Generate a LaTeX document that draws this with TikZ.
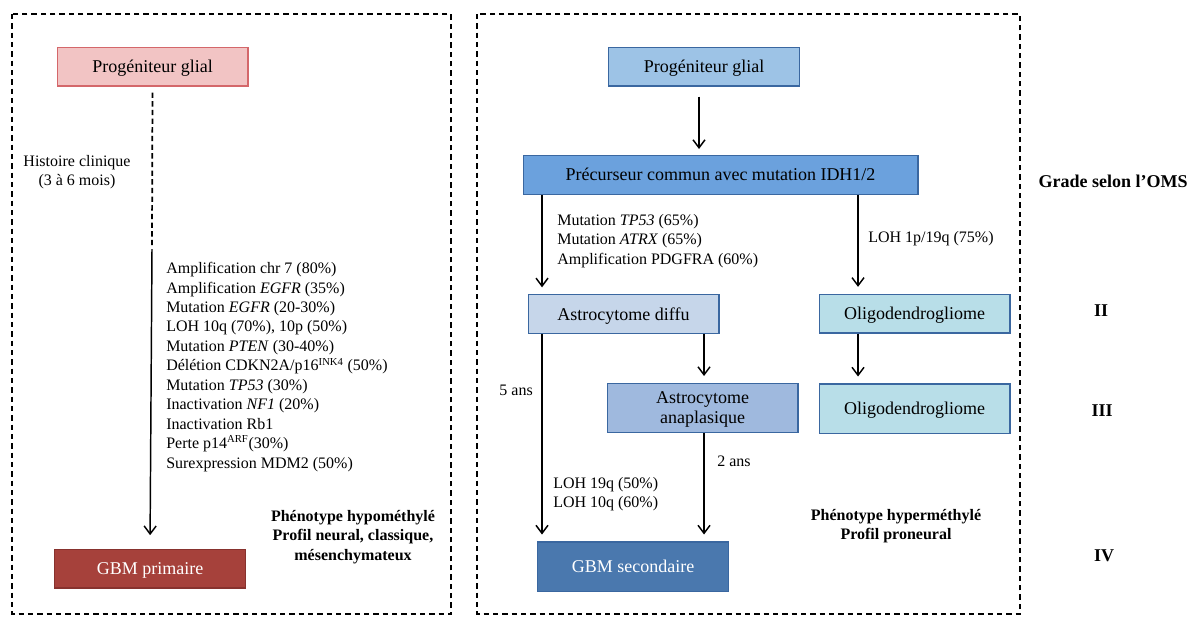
\documentclass[tikz,border=0pt]{standalone}
\usepackage{fontspec}
\setmainfont{Liberation Serif}
\usetikzlibrary{arrows.meta}

\definecolor{roseFill}{HTML}{F2C4C4}
\definecolor{roseLine}{HTML}{D4676A}
\definecolor{brickFill}{HTML}{A6413B}
\definecolor{brickLine}{HTML}{87322E}
\definecolor{skyFill}{HTML}{9DC3E6}
\definecolor{midFill}{HTML}{6BA1DD}
\definecolor{paleFill}{HTML}{C6D6EA}
\definecolor{anaFill}{HTML}{9FB9DE}
\definecolor{cyanFill}{HTML}{B8DEE8}
\definecolor{navyFill}{HTML}{4A78AE}
\definecolor{blueLine}{HTML}{3A67A0}

\tikzset{
	box/.style={draw, line width=1pt, inner sep=0pt, align=center, text depth=0.5pt, minimum width=143pt, minimum height=29pt, font=\fontsize{13.5}{15.5}\selectfont},
	arr/.style={-{Straight Barb[length=6pt,width=9pt]}, line width=1.1pt},
	txt/.style={inner sep=0pt, align=left, font=\fontsize{12}{14.6}\selectfont},
	boldtxt/.style={inner sep=0pt, align=center, font=\fontsize{12}{14.6}\selectfont\bfseries},
	grade/.style={inner sep=0pt, font=\fontsize{13.5}{15.5}\selectfont\bfseries},
	frame/.style={dash pattern=on 4pt off 3pt, line width=0.8pt}
}

\begin{document}
\begin{tikzpicture}[x=0.75pt, y=-0.75pt]
			\useasboundingbox (0, 0) rectangle (1194, 619);
			\draw[frame] (12, 14) rectangle (451, 614);
			\draw[frame] (477, 14) rectangle (1020, 614);

			\draw (152.5, 66.5) 	node[box, fill=roseFill, draw=roseLine] 			(lprog) 	{Progéniteur glial};
			\draw (150, 568.5) 	node[box, fill=brickFill, draw=brickLine, text=white] 	(gbmI) 		{GBM primaire};
			\draw (704, 66.5) 	node[box, fill=skyFill, draw=blueLine] 			(rprog) 	{Progéniteur glial};
			\draw (720.5, 175) 	node[box, fill=midFill, draw=blueLine, minimum width=296pt] 	(precur) 	{Précurseur commun avec mutation IDH1/2};
			\draw (623.5, 314) 	node[box, fill=paleFill, draw=blueLine] 			(astro) 	{Astrocytome diffu};
			\draw (914.5, 313.5) 	node[box, fill=cyanFill, draw=blueLine] 			(oligoA) 	{Oligodendrogliome};
			\draw (702.5, 408) 	node[box, fill=anaFill, draw=blueLine, minimum height=37pt] 	(anapl) 	{Astrocytome\\anaplasique};
			\draw (914.5, 408.5) 	node[box, fill=cyanFill, draw=blueLine, minimum height=37pt] 	(oligoB) 	{Oligodendrogliome};
			\draw (633, 566.5) 	node[box, fill=navyFill, draw=blueLine, text=white, minimum height=37pt] 	(gbmII) 	{GBM secondaire};

			\coordinate (hist) at (152, 245);
			\coordinate (laneL) at (542, 0);
			\coordinate (laneM) at (699, 0);
			\coordinate (laneA) at (704, 0);
			\coordinate (laneR) at (858, 0);

			\draw (77, 155) 	node[txt, anchor=north, align=center] 	(clin) 		{Histoire clinique\\(3 à 6 mois)};
			\draw (166, 262) 	node[txt, anchor=north west] 	(mutI) 		{Amplification chr 7 (80\%)\\Amplification \textit{EGFR} (35\%)\\Mutation \textit{EGFR} (20-30\%)\\LOH 10q (70\%), 10p (50\%)\\Mutation \textit{PTEN} (30-40\%)\\Délétion CDKN2A/p16\textsuperscript{INK4} (50\%)\\Mutation \textit{TP53} (30\%)\\Inactivation \textit{NF1} (20\%)\\Inactivation Rb1\\Perte p14\textsuperscript{ARF}(30\%)\\Surexpression MDM2 (50\%)};
			\draw (353, 510) 	node[boldtxt, anchor=north] 	(phenI) 	{Phénotype hypométhylé\\Profil neural, classique,\\mésenchymateux};

			\draw (557, 214) 	node[txt, anchor=north west] 	(mutII) 	{Mutation \textit{TP53} (65\%)\\Mutation \textit{ATRX} (65\%)\\Amplification PDGFRA (60\%)};
			\draw (868, 239) 	node[txt, anchor=west] 		(loh) 		{LOH 1p/19q (75\%)};
			\draw (533, 390) 	node[txt, anchor=east] 		(five) 		{5 ans};
			\draw (553, 477) 	node[txt, anchor=north west] 	(lohII) 	{LOH 19q (50\%)\\LOH 10q (60\%)};
			\draw (717, 461) 	node[txt, anchor=west] 		(two) 		{2 ans};
			\draw (896, 509) 	node[boldtxt, anchor=north] 	(phenII) 	{Phénotype hyperméthylé\\Profil proneural};

			\draw (1113, 181) 	node[grade] 	(oms) 		{Grade selon l’OMS};
			\draw (1101, 311) 	node[grade] 	(gII) 		{II};
			\draw (1102, 411) 	node[grade] 	(gIII) 		{III};
			\draw (1104, 556) 	node[grade] 	(gIV) 		{IV};

			\draw[dash pattern=on 4pt off 2.5pt, line width=1.3pt, shorten <=4.5pt] (lprog.south) -- (hist);
			\draw[arr, shorten >=10pt] ([yshift=-3pt]hist) -- (gbmI.north);
			\draw[arr, shorten <=7.5pt, shorten >=4.5pt] (rprog.south -| laneM) -- (precur.north -| laneM);
			\draw[arr, shorten >=5pt] (precur.south -| laneL) -- (astro.north -| laneL);
			\draw[arr, shorten >=5pt] (precur.south -| laneR) -- (oligoA.north -| laneR);
			\draw[arr, shorten >=5pt] (oligoA.south -| laneR) -- (oligoB.north -| laneR);
			\draw[arr, shorten >=5pt] (astro.south -| laneA) -- (anapl.north -| laneA);
			\draw[arr, shorten >=5pt] (astro.south -| laneL) -- (gbmII.north -| laneL);
			\draw[arr, shorten >=5pt] (anapl.south -| laneA) -- (gbmII.north -| laneA);
\end{tikzpicture}
\end{document}
